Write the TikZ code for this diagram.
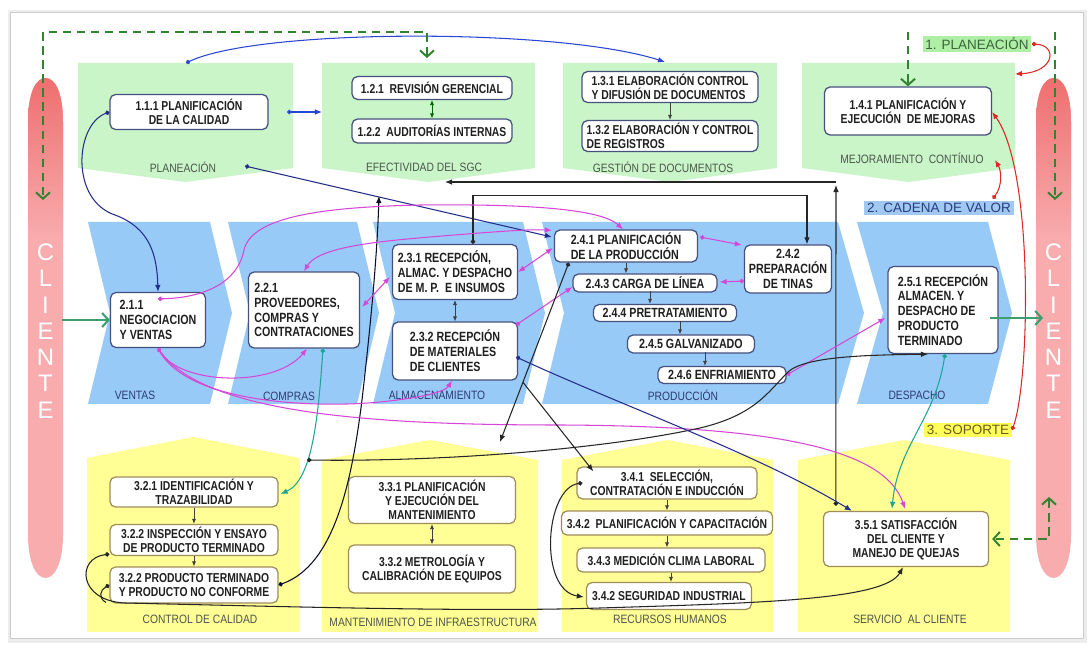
\documentclass[tikz,border=0pt]{standalone}
\usepackage{fontspec}
\setmainfont{Liberation Sans}
\newfontfamily\narrowfam[FakeStretch=0.8]{Liberation Sans}
\newfontfamily\labelfam[FakeStretch=0.85]{Liberation Sans}
\usetikzlibrary{arrows.meta,calc}
\definecolor{gpanel}{RGB}{202,245,200}
\definecolor{bchev}{RGB}{152,202,248}
\definecolor{ypanel}{RGB}{255,255,150}
\definecolor{capdark}{RGB}{238,108,108}
\definecolor{caplight}{RGB}{248,172,174}
\definecolor{navyl}{RGB}{35,45,140}
\definecolor{bluel}{RGB}{40,70,210}
\definecolor{magl}{RGB}{215,70,215}
\definecolor{teall}{RGB}{30,165,150}
\definecolor{redl}{RGB}{220,40,40}
\definecolor{gdash}{RGB}{50,130,50}
\definecolor{gsolid}{RGB}{60,160,110}
\definecolor{boxnavy}{RGB}{70,80,125}
\definecolor{boxolive}{RGB}{160,140,90}
\definecolor{labgray}{RGB}{75,85,75}
\definecolor{labnavy}{RGB}{45,60,110}
\definecolor{hlgreen}{RGB}{175,238,165}
\definecolor{hlblue}{RGB}{160,200,240}
\definecolor{hlyellow}{RGB}{255,255,90}
\definecolor{hlgtext}{RGB}{60,100,60}
\definecolor{hlbtext}{RGB}{40,60,130}
\definecolor{hlytext}{RGB}{110,90,30}
\newcommand{\fntT}{\narrowfam\bfseries\fontsize{9.2}{10}\selectfont}
\newcommand{\fntM}{\narrowfam\bfseries\fontsize{9.5}{10.6}\selectfont}
\newcommand{\fntL}{\labelfam\fontsize{8.6}{9}\selectfont}
\newcommand{\fntH}{\fontsize{9.6}{10}\selectfont}
\newcommand{\fntC}{\fontsize{17}{18.7}\selectfont}
\tikzset{
 tipA/.tip={Latex[length=5pt,width=4pt]},
 tipD/.tip={Circle[length=3.2pt]},
 tipV/.tip={Straight Barb[length=4.5pt,width=10pt]},
 tipS/.tip={Latex[length=3.5pt,width=3pt]},
 box/.style={draw=boxnavy, fill=white, rounded corners=4pt, line width=0.9pt, text=black!88, inner xsep=2pt, inner ysep=0.5pt, font=\fntT, align=center},
 mbox/.style={box, font=\fntM},
 ybox/.style={box, draw=boxolive},
 sz/.style 2 args={minimum width=#1cm, minimum height=#2cm},
 plab/.style={font=\fntL, text=labgray, inner sep=1pt},
 blab/.style={plab, text=labnavy},
 hl/.style={font=\fntH, inner xsep=2pt, inner ysep=1.5pt},
 con/.style={line width=0.75pt},
 cb/.style={con, draw=bluel},
 cn/.style={con, draw=navyl},
 mg/.style={con, draw=magl},
 tl/.style={con, draw=teall},
 blk/.style={con, draw=black!85},
 rd/.style={con, draw=redl},
 chain/.style={line width=0.6pt, draw=black!75, -tipS},
 dchain/.style={line width=0.6pt, draw=black!75, tipS-tipS},
 gd/.style={draw=gdash, line width=1.4pt, dash pattern=on 6pt off 4pt},
 gs/.style={draw=gsolid, line width=1.5pt},
 capl/.style={font=\fntC, text=white, align=center},
}
\begin{document}
\begin{tikzpicture}[x=0.025cm,y=-0.025cm]
\useasboundingbox (0,0) rectangle (1088,648);
% frame
\fill[gray!14] (8,10) rectangle (1087,643);
\fill[white] (10,12) rectangle (1083,638);
\draw[gray!40, line width=0.5pt] (10,12) rectangle (1083,638);

% capsules
\begin{scope}
 \clip (28,122) .. controls (28,92) and (36,78) .. (45.5,78) .. controls (55,78) and (63,92) .. (63,122) -- (63,535) .. controls (63,562) and (55,578) .. (45.5,578) .. controls (36,578) and (28,562) .. (28,535) -- cycle;
 \fill[caplight] (20,70) rectangle (70,590);
 \shade[top color=capdark, bottom color=caplight] (20,70) rectangle (70,240);
\end{scope}
\begin{scope}
 \clip (1036,122) .. controls (1036,92) and (1044,78) .. (1053.5,78) .. controls (1063,78) and (1071,92) .. (1071,122) -- (1071,535) .. controls (1071,562) and (1063,578) .. (1053.5,578) .. controls (1044,578) and (1036,562) .. (1036,535) -- cycle;
 \fill[caplight] (1028,70) rectangle (1078,590);
 \shade[top color=capdark, bottom color=caplight] (1028,70) rectangle (1078,240);
\end{scope}
\node[capl] (cliL) at (45.5,331) {C\\L\\I\\E\\N\\T\\E};
\node[capl] (cliR) at (1053.5,331) {C\\L\\I\\E\\N\\T\\E};

% green panels
\fill[gpanel] (78,63) -- (293,63) -- (293,168) -- (185.5,182) -- (78,168) -- cycle;
\fill[gpanel] (322,63) -- (535,63) -- (535,168) -- (428.5,182) -- (322,168) -- cycle;
\fill[gpanel] (563,63) -- (777,63) -- (777,168) -- (670,182) -- (563,168) -- cycle;
\fill[gpanel] (802,63) -- (1015,63) -- (1015,168) -- (908.5,182) -- (802,168) -- cycle;

% blue chevrons
\fill[bchev] (88,222) -- (210,222) -- (232,313) -- (210,404) -- (88,404) -- (110,313) -- cycle;
\fill[bchev] (228,222) -- (357,222) -- (379,313) -- (357,404) -- (228,404) -- (250,313) -- cycle;
\fill[bchev] (373,222) -- (523,222) -- (545,313) -- (523,404) -- (373,404) -- (395,313) -- cycle;
\fill[bchev] (542,222) -- (838,222) -- (864,313) -- (838,404) -- (542,404) -- (564,313) -- cycle;
\fill[bchev] (857,222) -- (988,222) -- (1012,313) -- (988,404) -- (857,404) -- (883,313) -- cycle;

% yellow panels
\fill[ypanel] (87,458) -- (193.5,437) -- (300,458) -- (300,632) -- (87,632) -- cycle;
\fill[ypanel] (322,460) -- (430,440) -- (538,460) -- (538,632) -- (322,632) -- cycle;
\fill[ypanel] (562,460) -- (667.5,440) -- (773,460) -- (773,632) -- (562,632) -- cycle;
\fill[ypanel] (798,460) -- (904,440) -- (1010,460) -- (1010,632) -- (798,632) -- cycle;

% panel labels
\node[plab] (lplan) at (183,167) {PLANEACIÓN};
\node[plab] (lefec) at (424,167) {EFECTIVIDAD DEL SGC};
\node[plab] (lgest) at (663,167) {GESTIÓN DE DOCUMENTOS};
\node[plab] (lmejo) at (912,158) {MEJORAMIENTO\ \ CONTÍNUO};
\node[blab] (lvent) at (135,395) {VENTAS};
\node[blab] (lcomp) at (289,396) {COMPRAS};
\node[blab] (lalma) at (437,395) {ALMACENAMIENTO};
\node[blab] (lprod) at (683,395) {PRODUCCIÓN};
\node[blab] (ldesp) at (917,395) {DESPACHO};
\node[plab] (lcont) at (200,619) {CONTROL DE CALIDAD};
\node[plab] (lmant) at (433,622) {MANTENIMIENTO DE INFRAESTRUCTURA};
\node[plab] (lrecu) at (670,619) {RECURSOS HUMANOS};
\node[plab] (lserv) at (910,619) {SERVICIO\ \ AL CLIENTE};

% highlighted section labels
\node[hl, fill=hlgreen, text=hlgtext] (lpl) at (977,44) {1. PLANEACIÓN};
\node[hl, fill=hlblue, text=hlbtext] (lcad) at (939,208) {2. CADENA DE VALOR};
\node[hl, fill=hlyellow, text=hlytext] (lsop) at (968,430) {3. SOPORTE};

% top boxes
\node[box, sz={3.95}{0.875}] (b111) at (189,112) {1.1.1 PLANIFICACIÓN\\DE LA CALIDAD};
\node[box, sz={4.0}{0.575}] (b121) at (432,88) {1.2.1\ \ REVISIÓN GERENCIAL};
\node[box, sz={4.0}{0.6}] (b122) at (432,131) {1.2.2\ \ AUDITORÍAS INTERNAS};
\node[box, sz={4.4}{0.775}, align=left] (b131) at (670,87) {1.3.1 ELABORACIÓN CONTROL\\Y DIFUSIÓN DE DOCUMENTOS};
\node[box, sz={4.4}{0.775}, align=left] (b132) at (670,136) {1.3.2 ELABORACIÓN Y CONTROL\\DE REGISTROS};
\node[box, sz={4.175}{1.2}] (b141) at (908,111) {1.4.1 PLANIFICACIÓN Y\\EJECUCIÓN\ \ DE MEJORAS};

% middle boxes
\node[mbox, sz={2.375}{1.375}, align=left] (b211) at (158,320) {2.1.1\\NEGOCIACION\\Y VENTAS};
\node[mbox, sz={2.775}{1.9}, align=left] (b221) at (304,310) {2.2.1\\PROVEEDORES,\\COMPRAS Y\\CONTRATACIONES};
\node[mbox, sz={3.125}{1.375}, align=left] (b231) at (455,272) {2.3.1 RECEPCIÓN,\\ALMAC. Y DESPACHO\\DE M. P.\ \ E INSUMOS};
\node[mbox, sz={3.125}{1.45}, align=left] (b232) at (455,351) {2.3.2 RECEPCIÓN\\DE MATERIALES\\DE CLIENTES};
\node[mbox, sz={3.575}{0.8}, align=left] (b241) at (626,246) {2.4.1 PLANIFICACIÓN\\DE LA PRODUCCIÓN};
\node[mbox, sz={3.6}{0.45}] (b243) at (645,283) {2.4.3 CARGA DE LÍNEA};
\node[mbox, sz={3.575}{0.425}] (b244) at (665,313) {2.4.4 PRETRATAMIENTO};
\node[mbox, sz={3.175}{0.45}] (b245) at (691,344) {2.4.5 GALVANIZADO};
\node[mbox, sz={3.2}{0.425}] (b246) at (722,375) {2.4.6 ENFRIAMIENTO};
\node[mbox, sz={2.175}{1.2}] (b242) at (788,269) {2.4.2\\PREPARACIÓN\\DE TINAS};
\node[mbox, sz={2.75}{2.175}, align=left] (b251) at (943,310) {2.5.1 RECEPCIÓN\\ALMACEN. Y\\DESPACHO DE\\PRODUCTO\\TERMINADO};

% bottom boxes
\node[ybox, sz={4.2}{0.75}] (b321) at (194,492) {3.2.1 IDENTIFICACIÓN Y\\TRAZABILIDAD};
\node[ybox, sz={4.2}{0.775}] (b322) at (194,540) {3.2.2 INSPECCIÓN Y ENSAYO\\DE PRODUCTO TERMINADO};
\node[ybox, sz={4.2}{0.9}] (b323) at (194,585) {3.2.2 PRODUCTO TERMINADO\\Y PRODUCTO NO CONFORME};
\node[ybox, sz={4.175}{1.175}] (b331) at (432,500) {3.3.1 PLANIFICACIÓN\\Y EJECUCIÓN DEL\\MANTENIMIENTO};
\node[ybox, sz={4.175}{1.2}] (b332) at (432,569) {3.3.2 METROLOGÍA Y\\CALIBRACIÓN DE EQUIPOS};
\node[ybox, sz={4.5}{0.8}] (b341) at (667,483) {3.4.1\ \ SELECCIÓN,\\CONTRATACIÓN E INDUCCIÓN};
\node[ybox, sz={5.275}{0.6}] (b342) at (667,523) {3.4.2\ \ PLANIFICACIÓN Y CAPACITACIÓN};
\node[ybox, sz={4.7}{0.6}] (b343) at (671,560) {3.4.3 MEDICIÓN CLIMA LABORAL};
\node[ybox, sz={4.125}{0.675}] (b344) at (669,596) {3.4.2 SEGURIDAD INDUSTRIAL};
\node[ybox, sz={4.125}{1.375}] (b351) at (906,539) {3.5.1 SATISFACCIÓN\\DEL CLIENTE Y\\MANEJO DE QUEJAS};

% named free ends
\coordinate (p1top) at (186,63);
\coordinate (p3top) at (665,62);
\coordinate (p1r) at (287,112);
\coordinate (p2l) at (322,112);
\coordinate (pldot) at (245,166);
\coordinate (p2bot) at (445,182);
\coordinate (p2bar) at (379,196);
\coordinate (vbar) at (836,182);
\coordinate (vbartop) at (836,185);
\coordinate (p2top) at (427,58);
\coordinate (p4side) at (1015,74);
\coordinate (p4lab) at (995,160);
\coordinate (mtop) at (500,442);
\coordinate (cqdot) at (307,460);
\coordinate (cliLout) at (62,320);
\coordinate (cliRin) at (1043,318);
\coordinate (b251in) at (990,318);

% chains inside panels
\draw[dchain, draw=black!60!green] (b121) -- (b122);
\draw[chain] (b131) -- (b132);
\draw[dchain] (b231) -- (b232);
\draw[chain] (b241.south) -- (b241.south |- b243.north);
\draw[chain] ($(b244.north)+(-15,-12.5)$) -- ($(b244.north)+(-15,0)$);
\draw[chain] ($(b245.north)+(-11,-13.5)$) -- ($(b245.north)+(-11,0)$);
\draw[chain] ($(b246.north)+(-17,-13.5)$) -- ($(b246.north)+(-17,0)$);
\draw[chain] (b321) -- (b322);
\draw[chain] (b322) -- (b323);
\draw[dchain] (b331) -- (b332);
\draw[chain] (b341) -- (b342);
\draw[chain] (b342.south) -- (b342.south |- b343.north);
\draw[chain] (b343.south) -- (b343.south |- b344.north);

% top connectors
\draw[cb, tipD-tipA] (p1top) .. controls (260,28) and (560,28) .. (p3top);
\draw[cb, tipD-tipA] (p1r) -- (p2l);
\draw[cn, tipD-tipA] (b111.west) .. controls (75,125) and (70,200) .. (115,215) .. controls (150,228) and (157,255) .. (b211.north);
\draw[cn, tipD-tipA] (pldot) -- ($(b241.west)+(-2,-9)$);
\draw[blk, tipD-tipA] ($(b351.north west)+(13,-5)$) -- (vbartop);
\draw[blk, -tipA] (vbar) -- (p2bot);
\draw[blk, tipD-tipA] ($(b231.north)+(18,0)$) -- ++(0,-48) -| ($(b242.north)+(19,0)$);
\draw[con, draw=black!70!navyl, tipD-tipA] (b323.east) .. controls (335,565) and (352,480) .. (362,400) .. controls (370,330) and (377,260) .. (p2bar);
\draw[tl, tipD-tipA] ($(b221.south)+(19,0)$) .. controls (318,420) and (312,480) .. ($(b321.east)+(2,2)$);

% magenta connectors
\draw[mg, tipD-tipA] ($(b211.north)+(0,7)$) .. controls (205,298) and (238,282) .. (244,250) .. controls (252,215) and (330,207) .. (420,205) .. controls (520,204) and (600,208) .. ($(b241.north)+(-3,0)$);
\draw[mg, tipA-tipA] (b221.north) .. controls (318,248) and (370,242) .. (430,237) .. controls (490,232) and (530,229) .. ($(b241.north west)+(-2,1)$);
\draw[mg, tipA-tipA] (b231.east) -- ($(b241.west)+(-1,2)$);
\draw[mg, tipA-tipA] ($(b221.east)+(2,-3)$) -- ($(b231.west)+(-2,5)$);
\draw[mg, tipD-tipA] ($(b232.east)+(-2,-26)$) -- ($(b243.west)+(0,4)$);
\draw[mg, tipD-tipA] ($(b241.east)+(2,-9)$) -- ($(b242.west)+(-2,-24)$);
\draw[mg, tipD-tipA] ($(b242.west)+(0,12)$) -- ($(b243.east)+(2,-1)$);
\draw[mg, tipD-tipA] (b246.east) -- ($(b251.west)+(-2,8)$);
\draw[mg, tipD-tipA] (b211.south) .. controls (180,385) and (275,388) .. ($(b221.south)+(3,0)$);
\draw[mg, -tipA] (b211.south) .. controls (185,405) and (320,408) .. (380,402) .. controls (420,398) and (445,392) .. ($(b232.south)+(-3,0)$);
\draw[mg, -tipA] (b211.south) .. controls (200,415) and (380,425) .. (560,425) .. controls (780,426) and (885,450) .. ($(b351.north)+(-1,-2)$);

% black / navy / teal connectors
\draw[blk, tipD-tipA] ($(b241.south west)+(15,0)$) -- (mtop);
\coordinate (brk) at ($($(b241.south west)+(15,0)$)!0.667!(mtop)$);
\draw[blk, -tipA] (brk) -- ($(b341.north west)+(17,5)$);
\draw[blk, tipD-tipA] (cqdot) .. controls (450,462) and (610,448) .. (700,428) .. controls (755,415) and (768,392) .. (788,372) .. controls (805,356) and (870,355) .. ($(b251.south)+(-15,0)$);
\draw[blk, tipD-tipA] ($(b322.south west)+(0,-2)$) .. controls (76,558) and (78,601) .. (125,603) .. controls (300,607) and (480,612) .. (600,608) .. controls (760,603) and (885,600) .. ($(b351.south)+(-3,0)$);
\draw[blk, tipD-] (b323.west) .. controls (100,590) and (98,598) .. (106,602.5);
\draw[blk, tipD-tipA] ($(b341.west)+(6,0)$) .. controls (545,488) and (538,590) .. ($(b344.west)+(-2,1)$);
\draw[cn, tipD-tipA] ($(b232.east)+(-2,6)$) .. controls (620,405) and (760,455) .. ($(b351.north west)+(29,0)$);
\draw[tl, tipD-tipA] ($(b251.south)+(2,0)$) .. controls (935,420) and (898,445) .. ($(b351.north)+(-14,-2)$);

% red connectors
\draw[rd, tipD-tipA] (lpl.east) .. controls (1058,45) and (1055,72) .. (p4side);
\draw[rd, tipD-tipA] ($(lcad.north east)+(-21,-2)$) .. controls (1003,185) and (1001,170) .. (p4lab);
\draw[rd, tipD-tipA] (lsop.east) .. controls (1030,380) and (1034,170) .. ($(b141.east)+(0,1)$);

% green dashed and solid arrows
\draw[gd, tipV-tipV] (p2top) -- (427,32) -- (43,32) -- (43,200);
\draw[gd, -tipV] (908,32) -- (b141.north);
\draw[gd, -tipV] (1055,32) -- (1055,200);
\draw[gd, tipV-tipV] (1049,497) -- (1049,539) -- ($(b351.east)+(3,0)$);
\draw[gs, -tipV] (cliLout) -- (b211.west);
\draw[gs, -tipV] (b251in) -- (cliRin);
\end{tikzpicture}
\end{document}
